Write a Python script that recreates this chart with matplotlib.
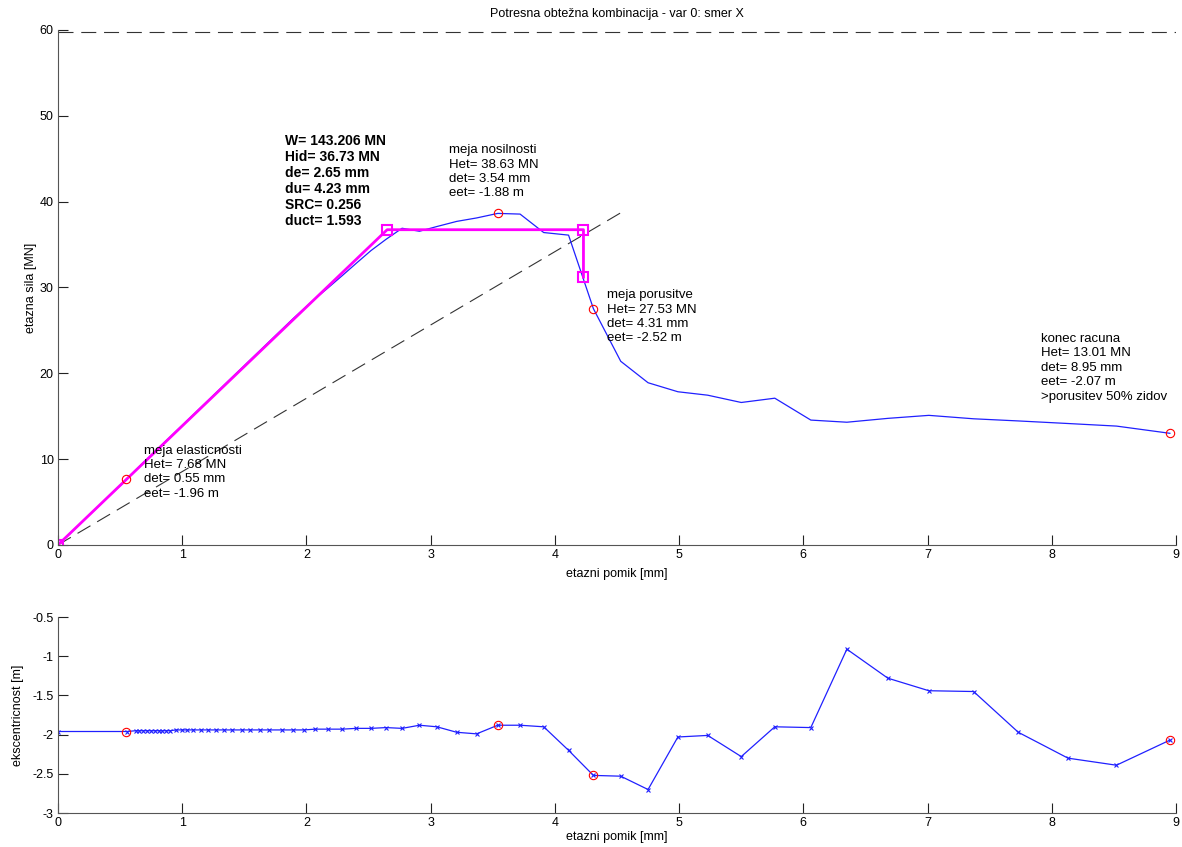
import matplotlib.pyplot as plt

plt.rcParams['font.family'] = ['Liberation Sans', 'DejaVu Sans']
fontsize = 9
textsize = 9.5

# story drift [mm]
pomik = [0, 0.557, 0.626, 0.656, 0.687, 0.718, 0.749, 0.780, 0.811, 0.841,
         0.872, 0.903, 0.95, 1.0, 1.04, 1.09, 1.15, 1.21, 1.27, 1.34,
         1.40, 1.48, 1.55, 1.63, 1.70, 1.80, 1.89, 1.98, 2.07, 2.17,
         2.29, 2.40, 2.52, 2.64, 2.77, 2.91, 3.05, 3.21, 3.37, 3.54,
         3.72, 3.91, 4.11, 4.31, 4.53, 4.75, 4.99, 5.23, 5.50, 5.77,
         6.06, 6.35, 6.68, 7.01, 7.37, 7.73, 8.13, 8.52, 8.95]
# story force [MN]
sila = [0, 7.68, 8.73, 9.15, 9.58, 10.01, 10.44, 10.87, 11.30, 11.72,
        12.15, 12.58, 13.24, 13.93, 14.49, 15.18, 16.02, 16.85, 17.69, 18.66,
        19.50, 20.61, 21.59, 22.70, 23.68, 25.07, 26.33, 27.52, 28.70, 29.9,
        31.4, 32.8, 34.3, 35.6, 36.9, 36.55, 37.1, 37.7, 38.1, 38.63,
        38.55, 36.4, 36.1, 27.53, 21.4, 18.9, 17.85, 17.45, 16.6, 17.1,
        14.55, 14.3, 14.75, 15.1, 14.7, 14.45, 14.15, 13.85, 13.01]
# eccentricity [m]
ekscentricnost = [-1.96, -1.96, -1.95, -1.95, -1.95, -1.95, -1.95, -1.95, -1.95, -1.95,
                  -1.95, -1.95, -1.94, -1.94, -1.94, -1.94, -1.94, -1.94, -1.94, -1.94,
                  -1.94, -1.94, -1.94, -1.94, -1.94, -1.94, -1.94, -1.94, -1.93, -1.93,
                  -1.93, -1.92, -1.92, -1.91, -1.92, -1.88, -1.90, -1.97, -1.99, -1.88,
                  -1.88, -1.90, -2.20, -2.52, -2.53, -2.70, -2.03, -2.01, -2.28, -1.90,
                  -1.91, -0.91, -1.28, -1.44, -1.45, -1.97, -2.30, -2.39, -2.07]

# characteristic points
tocke_d = [0.55, 3.54, 4.31, 8.95]
tocke_h = [7.68, 38.63, 27.53, 13.01]
tocke_e = [-1.96, -1.88, -2.52, -2.07]

# idealised bilinear
bil_d = [0, 2.65, 4.23, 4.23]
bil_h = [0, 36.73, 36.73, 31.2]

# secant line and required load level
sek_d = [0, 4.53]
sek_h = [0, 38.7]
h_potrebna = 59.8

labels = [
    (0.69, 11.7, 'meja elasticnosti\nHet= 7.68 MN\ndet= 0.55 mm\neet= -1.96 m'),
    (3.15, 46.7, 'meja nosilnosti\nHet= 38.63 MN\ndet= 3.54 mm\neet= -1.88 m'),
    (4.42, 29.8, 'meja porusitve\nHet= 27.53 MN\ndet= 4.31 mm\neet= -2.52 m'),
    (7.91, 24.7, 'konec racuna\nHet= 13.01 MN\ndet= 8.95 mm\neet= -2.07 m\n>porusitev 50% zidov'),
]
info = 'W= 143.206 MN\nHid= 36.73 MN\nde= 2.65 mm\ndu= 4.23 mm\nSRC= 0.256\nduct= 1.593'

dash = (0, (13.5, 7))


def style_axes(ax):
    for s in ['top', 'right']:
        ax.spines[s].set_visible(False)
    for s in ['left', 'bottom']:
        ax.spines[s].set_color('#555555')
    ax.tick_params(direction='in', length=7, width=0.8, labelsize=fontsize,
                   color='#222222', pad=3)
    ax.set_xlim(0, 9)
    ax.set_xticks(range(10))


fig = plt.figure(figsize=(11.82, 8.47), dpi=100)
ax1 = fig.add_axes([0.049, 0.3566, 0.946, 0.608])
ax2 = fig.add_axes([0.049, 0.0401, 0.946, 0.2314])

# upper plot
ax1.plot([0, 9], [h_potrebna, h_potrebna], color='#333333', linestyle=dash, linewidth=0.8)
ax1.plot(sek_d, sek_h, color='#333333', linestyle=dash, linewidth=0.8)
ax1.plot(pomik, sila, color='#2020ff', linewidth=0.9)
ax1.plot(bil_d, bil_h, color='#ff00ff', linewidth=2, marker='s', markersize=7.5,
         markerfacecolor='none', markeredgewidth=1.5)
ax1.plot(tocke_d, tocke_h, linestyle='none', marker='o', markersize=6,
         markerfacecolor='none', markeredgecolor='red', markeredgewidth=0.8)
for x, y, t in labels:
    ax1.text(x, y, t, fontsize=textsize, va='top', ha='left', linespacing=1.27)
ax1.text(1.83, 47.9, info, fontsize=10, va='top', ha='left',
         fontweight='bold', linespacing=1.19)
ax1.set_ylim(0, 60)
ax1.set_yticks(range(0, 61, 10))
style_axes(ax1)
ax1.set_xlabel('etazni pomik [mm]', fontsize=fontsize, labelpad=5)
ax1.set_ylabel('etazna sila [MN]', fontsize=fontsize, labelpad=2)
ax1.set_title('Potresna obtežna kombinacija - var 0: smer X', fontsize=fontsize, pad=9)

# lower plot
ax2.plot(pomik, ekscentricnost, color='#2020ff', linewidth=0.9, marker='x',
         markersize=2.5, markeredgewidth=0.8)
ax2.plot(tocke_d, tocke_e, linestyle='none', marker='o', markersize=6,
         markerfacecolor='none', markeredgecolor='red', markeredgewidth=0.8)
ax2.set_ylim(-3, -0.5)
ax2.set_yticks([-3, -2.5, -2, -1.5, -1, -0.5])
ax2.set_yticklabels(['-3', '-2.5', '-2', '-1.5', '-1', '-0.5'])
style_axes(ax2)
ax2.set_xlabel('etazni pomik [mm]', fontsize=fontsize, labelpad=1)
ax2.set_ylabel('ekscentricnost [m]', fontsize=fontsize, labelpad=6)

plt.savefig('out.png', dpi=100)
